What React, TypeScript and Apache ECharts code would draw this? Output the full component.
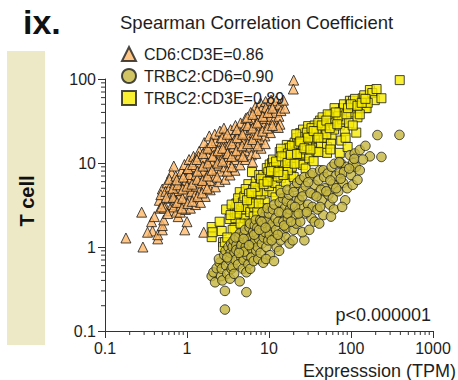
import React, { useEffect, useRef } from 'react';
import * as echarts from 'echarts';

const FONT = "'Liberation Sans', Arial, Helvetica, sans-serif";

const seriesNames = ['CD6:CD3E=0.86', 'TRBC2:CD6=0.90', 'TRBC2:CD3E=0.89'];
const xTickLabels = ['0.1', '1', '10', '100', '1000'];
const yTickLabels = ['0.1', '1', '10', '100'];

// CD6 vs CD3E (triangles)
const cd6Cd3e: number[][] = [
  [0.18, 1.28], [0.29, 1.0], [0.28, 2.6], [0.37, 2.0], [0.38, 1.55], [0.44, 1.25], [0.44, 1.4], [0.5, 1.6], [0.5, 1.8], [0.52, 2.1],
  [0.94, 1.6], [1.0, 2.0], [0.78, 2.3], [1.6, 1.5], [0.65, 7.6], [0.69, 9.2], [0.46, 3.6], [0.5, 4.9], [0.57, 5.8], [0.4, 2.3],
  [0.47, 2.9], [0.33, 1.5],
  [0.48, 4.2], [0.52, 3.3], [0.55, 4.6], [0.53, 2.9], [0.49, 3.0],
  [0.6, 3.8], [0.62, 5.2], [0.63, 2.7], [0.64, 4.4], [0.61, 6.4], [0.66, 3.2],
  [0.7, 5.8], [0.72, 3.6], [0.71, 4.6], [0.74, 2.6], [0.73, 7.0], [0.69, 3.0],
  [0.8, 4.0], [0.82, 6.6], [0.84, 3.1], [0.81, 5.2], [0.86, 8.0], [0.83, 2.6], [0.79, 4.7],
  [0.92, 5.6], [0.95, 3.5], [0.94, 7.4], [0.97, 4.4], [0.93, 9.6], [0.96, 2.8], [0.98, 6.2],
  [1.05, 5.0], [1.1, 3.9], [1.08, 8.4], [1.12, 6.6], [1.06, 11.0], [1.1, 2.9], [1.13, 4.6], [1.07, 7.3],
  [1.22, 6.0], [1.26, 4.2], [1.24, 9.0], [1.28, 7.2], [1.2, 12.0], [1.27, 3.2], [1.3, 5.3], [1.23, 10.4],
  [1.4, 7.0], [1.45, 4.8], [1.43, 10.0], [1.48, 5.8], [1.41, 13.8], [1.46, 3.4], [1.5, 8.4], [1.38, 12.0],
  [1.6, 8.0], [1.66, 5.4], [1.63, 11.5], [1.68, 14.5], [1.7, 6.6], [1.62, 17.5], [1.67, 4.0], [1.72, 9.6],
  [1.85, 9.2], [1.9, 6.2], [1.88, 13.0], [1.93, 16.0], [1.95, 7.6], [1.87, 21], [1.92, 4.8], [1.98, 11.0],
  [2.1, 10.5], [2.2, 7.0], [2.15, 14.5], [2.25, 18.5], [2.22, 5.2], [2.18, 22], [2.3, 8.6], [2.12, 12.3],
  [2.45, 11.5], [2.55, 8.0], [2.5, 16.0], [2.6, 20], [2.48, 6.0], [2.52, 24], [2.58, 13.5], [2.42, 9.4],
  [2.8, 12.5], [2.9, 9.0], [2.85, 18], [2.95, 23], [2.92, 6.4], [2.88, 15], [3.0, 11.0], [2.82, 26],
  [3.2, 14], [3.3, 10], [3.25, 20], [3.4, 25], [3.35, 7.2], [3.28, 16.5], [3.22, 12],
  [3.7, 15.5], [3.8, 11], [3.75, 22], [3.9, 28], [3.85, 8.2], [3.78, 18.5], [3.95, 13],
  [4.3, 17], [4.4, 12.5], [4.35, 24], [4.5, 30], [4.45, 9.5], [4.38, 20], [4.55, 14.5],
  [5.0, 19], [5.1, 14], [5.05, 27], [5.2, 34], [5.15, 11], [5.08, 23], [5.3, 16],
  [5.8, 21], [5.9, 15.5], [5.85, 30], [6.0, 40], [6.1, 12.5], [5.95, 25], [6.05, 18],
  [6.6, 23], [6.7, 17], [6.65, 33], [6.8, 46], [6.9, 13], [6.75, 28], [6.95, 20],
  [7.6, 26], [7.8, 19], [7.7, 37], [7.9, 52], [8.0, 15], [7.75, 31], [8.1, 44],
  [8.7, 28], [8.9, 21], [8.8, 40], [9.1, 54], [9.0, 17], [8.85, 34], [9.2, 46],
  [10, 30], [10.4, 23], [10.2, 44], [10.6, 56], [10.5, 36],
  [11.5, 33], [12, 27], [11.7, 48], [12.2, 55], [11.9, 40],
  [13.2, 36], [13.6, 29], [13.5, 50], [14, 42],
  [15.6, 45], [15, 56], [20, 97], [19.8, 76], [13, 26.5], [6.3, 10.3], [7.2, 42],
  [0.56, 3.9], [0.58, 2.5], [0.67, 5.0], [0.68, 3.9], [0.76, 3.4], [0.77, 5.5], [0.75, 6.3], [0.88, 3.8], [0.89, 4.9], [0.9, 6.8],
  [0.87, 2.9], [1.0, 5.3], [1.02, 3.3], [1.03, 8.6], [1.15, 5.6], [1.17, 9.6], [1.16, 3.5], [1.33, 6.4], [1.35, 4.0], [1.34, 8.0],
  [1.32, 11], [1.55, 6.2], [1.56, 9.2], [1.53, 4.4], [1.57, 13], [1.78, 7.0], [1.8, 10], [1.76, 5.0], [1.79, 15], [2.02, 8.2],
  [2.05, 12], [2.0, 17.5], [2.35, 10], [2.38, 14], [2.33, 6.8], [2.7, 10.5], [2.72, 15], [2.68, 20], [3.1, 8.0], [3.12, 13],
  [3.1, 22], [3.5, 12], [3.55, 17], [3.52, 9.0], [4.0, 14], [4.1, 20], [4.05, 25], [4.7, 16], [4.75, 22], [4.8, 12],
  [5.5, 17], [5.5, 28], [5.45, 35], [6.3, 19], [6.3, 26], [6.35, 38], [7.2, 22], [7.2, 30], [7.3, 16], [8.3, 24],
  [8.4, 36], [9.6, 26], [9.7, 40], [11, 28], [11, 45],
];

// TRBC2 vs CD6 (circles)
const trbc2Cd6: number[][] = [
  [2.0, 0.45], [2.2, 0.38], [2.1, 0.5], [2.3, 0.56],
  [2.5, 0.65], [2.6, 0.45], [2.45, 0.72], [2.7, 0.40], [2.65, 0.55],
  [2.9, 0.30], [2.9, 0.18], [2.85, 0.8], [3.0, 0.6], [3.1, 0.48], [2.95, 0.9],
  [3.3, 0.70], [3.2, 1.0], [3.4, 0.85], [3.5, 0.55], [3.35, 0.42], [3.45, 1.1],
  [3.6, 0.58], [3.6, 1.0], [3.8, 0.85], [3.7, 1.2], [3.9, 0.7], [4.0, 1.05], [3.75, 0.48], [4.0, 0.92],
  [4.4, 0.39], [4.3, 1.3], [4.5, 0.95], [4.6, 0.75], [4.2, 0.62], [4.7, 1.15], [4.4, 1.45], [4.8, 0.55], [4.6, 1.05],
  [5.3, 0.29], [4.9, 0.70], [5.0, 1.4], [5.2, 1.0], [5.4, 0.8], [5.1, 1.6], [5.5, 1.2], [5.6, 0.62], [5.3, 0.5], [5.0, 0.88],
  [5.9, 0.55], [5.8, 1.7], [6.0, 1.3], [6.2, 0.95], [6.1, 0.75], [6.4, 1.5], [6.3, 1.1], [6.5, 0.68], [5.9, 1.9],
  [6.7, 1.8], [6.8, 1.2], [7.0, 0.9], [7.1, 1.45], [6.9, 2.1], [7.3, 1.0], [7.4, 0.72], [7.2, 1.7], [7.5, 1.25],
  [7.8, 2.1], [8.0, 1.5], [8.2, 1.1], [8.5, 0.65], [8.4, 1.8], [7.9, 0.85], [8.6, 1.3], [8.8, 2.3], [8.3, 2.6],
  [9.0, 1.5], [9.3, 1.0], [9.5, 2.0], [9.8, 1.2], [10.0, 2.5], [10.3, 0.8], [10.5, 1.7], [9.6, 2.9], [10.2, 1.4], [9.2, 0.72],
  [11.5, 0.68], [11.0, 1.9], [11.2, 2.8], [11.8, 1.3], [12.0, 2.2], [12.4, 1.0], [11.6, 3.2], [12.2, 1.6],
  [13.0, 2.0], [13.5, 3.4], [13.8, 1.2], [14.2, 2.6], [14.5, 1.5], [13.3, 0.9], [14.8, 3.8], [14.0, 4.4], [15.0, 2.0],
  [15.6, 2.9], [16.0, 1.3], [16.5, 3.5], [17.0, 2.2], [17.5, 4.2], [16.2, 1.7], [17.8, 1.1], [18.0, 2.8], [16.8, 4.8],
  [19, 3.2], [20, 1.6], [20.5, 5.2], [21, 2.4], [22, 3.8], [19.5, 1.2], [21.5, 1.9], [22, 5.8], [20, 4.5],
  [24, 6.3], [24, 2.0], [25, 3.0], [26, 4.6], [27, 1.2], [27, 6.8], [28, 2.5], [25.5, 1.5], [23.5, 3.6], [28, 5.3],
  [30, 3.2], [31, 1.6], [32, 7.2], [33, 2.2], [34, 7.6], [35, 4.2], [36, 5.5], [30, 5.9], [34, 3.0], [36, 2.0],
  [40, 6.2], [42, 8.2], [44, 3.6], [46, 8.2], [46, 2.4], [48, 5.0], [39, 2.8], [43, 4.8], [47, 6.8], [41, 1.9],
  [52, 7.5], [55, 3.2], [58, 9.0], [60, 5.6], [62, 2.8], [65, 7.0], [53, 4.2], [57, 2.3], [63, 9.8], [60, 3.8],
  [73, 7.6], [70, 4.6], [75, 10.0], [80, 5.8], [85, 3.6], [88, 9.0], [78, 3.0], [82, 7.8], [90, 5.0], [72, 10.2],
  [97, 12.4], [106, 10], [111, 13], [100, 7.2], [105, 5.5], [115, 9.0], [120, 6.3], [128, 8.2], [128, 14.3], [110, 11.2],
  [150, 16], [170, 12], [210, 21.5], [235, 11.8], [390, 21.6], [140, 11],
  [3.1, 0.75], [3.9, 1.3], [4.3, 0.85], [4.9, 1.25], [5.7, 1.05], [6.6, 1.4], [7.6, 1.6], [8.1, 2.0], [9.1, 1.7], [10.8, 1.2],
  [12.8, 1.4], [13.2, 2.6], [15.3, 1.8], [16.8, 2.5], [18.6, 2.0], [20.8, 3.0], [23, 2.5], [25.5, 4.0], [29, 2.6], [32, 4.4],
  [38, 4.0], [42, 3.0], [50, 4.6], [56, 6.2], [66, 5.0], [75, 6.5], [95, 8.6],
];

// TRBC2 vs CD3E (squares)
const trbc2Cd3e: number[][] = [
  [2.0, 1.73], [2.0, 1.31], [2.05, 1.5], [2.65, 1.55], [2.75, 1.14], [2.75, 1.0], [2.9, 1.14], [3.3, 2.15], [3.8, 1.68], [3.8, 2.6],
  [4.9, 2.2], [4.0, 3.3], [4.4, 4.5], [3.6, 1.6], [5.1, 2.2], [3.1, 1.3], [2.5, 2.0],
  [3.0, 2.8], [3.5, 3.2], [4.2, 3.8], [4.6, 2.8], [4.8, 3.4], [3.9, 2.2],
  [5.0, 4.0], [5.3, 3.0], [5.6, 5.6], [5.9, 2.6], [5.5, 1.9], [6.0, 3.6], [5.2, 4.9],
  [6.2, 7.8], [6.4, 4.8], [6.6, 3.0], [6.9, 6.0], [6.5, 2.3], [7.0, 3.9],
  [7.6, 7.2], [7.8, 5.5], [8.2, 5.0], [8.5, 7.2], [8.9, 3.4], [7.9, 4.2], [8.4, 2.9], [8.8, 6.2], [9.4, 8.7], [9.0, 4.6],
  [10.2, 9.6], [10.9, 10], [10.5, 6.4], [11.2, 11], [11.0, 4.5], [11.6, 7.6], [12.5, 8.2], [10.0, 5.3], [11.8, 5.8], [12.0, 3.9],
  [13.5, 13.5], [14.8, 11.7], [13.2, 9.0], [14.0, 6.6], [15.2, 8.6], [16.5, 16.4], [15.8, 12.4], [13.8, 4.8], [16.0, 5.9], [14.5, 10.2],
  [17.5, 15], [18.0, 10.8], [19.5, 13.2], [18.5, 7.3], [20.5, 17.5], [22, 19.8], [21, 11.5], [20, 6.8], [19, 9.0], [22.5, 14.5],
  [24, 10], [24, 22.7], [25, 16], [26, 25], [26, 9.5], [27, 12.5], [27.5, 19], [24.5, 13], [28, 8.6], [25.5, 20.5],
  [31, 13.2], [31, 11.4], [30, 27.5], [32, 18], [33, 22], [34, 15], [36, 28], [35, 10.5], [36, 20], [38, 13.7],
  [42, 32], [46, 30.5], [44, 24], [43, 17], [47, 20], [51, 15.5], [51, 13.2], [48, 27], [40, 13.5], [45, 35],
  [58, 21.6], [55, 37], [60, 30], [63, 45], [62, 25], [57, 17], [64, 34], [56, 14.5],
  [73, 28], [73, 13.2], [80, 45], [72, 40], [78, 33], [76, 18.5], [84, 24], [82, 50], [70, 36], [86, 20],
  [91, 15.5], [97, 55], [106, 55], [100, 40], [95, 30], [110, 47], [116, 23], [120, 35], [105, 28], [112, 58],
  [139, 59], [130, 45], [150, 45], [155, 45], [145, 64], [170, 74], [182, 68], [205, 76], [195, 56], [160, 52],
  [235, 59], [393, 97], [128, 38],
  [4.1, 2.5], [4.5, 1.9], [5.7, 4.3], [6.3, 3.3], [7.3, 4.6], [7.2, 2.6], [6.8, 5.2], [9.8, 7.8], [8.0, 6.5], [12.8, 6.9],
  [11.4, 8.9], [17, 8.2], [15, 7.2], [14, 14.8], [17, 13], [19, 16], [21.5, 22], [23, 17], [26, 14.5], [29, 23],
  [29, 16], [33, 26], [38, 24], [40, 30], [52, 38], [50, 22],
  [3.4, 2.4], [4.3, 3.0], [5.4, 3.6], [6.1, 4.4], [7.5, 3.3], [8.6, 5.6], [9.6, 6.0], [10.6, 8.0], [12.2, 10.4], [13, 7.8],
  [14.2, 12], [16.8, 10], [18.5, 12.5], [20.5, 9.8], [22, 12.8], [24, 18], [27, 15], [30, 20], [32, 14.5], [35, 24],
  [40, 20], [44, 28], [50, 32], [55, 26], [65, 40], [68, 29], [88, 38], [92, 45], [100, 50], [120, 48], [135, 52], [150, 58],
];

// minor tick positions (2..9 within each decade)
const xMinorTicks: number[] = [];
[0.1, 1, 10, 100].forEach((d) => {
  for (let k = 2; k <= 9; k++) xMinorTicks.push(Number((k * d).toPrecision(2)));
});
const yMinorTicks: number[] = [];
[0.1, 1, 10].forEach((d) => {
  for (let k = 2; k <= 9; k++) yMinorTicks.push(Number((k * d).toPrecision(2)));
});

const AXIS_COLOR = '#333';
const TEXT_COLOR = '#1e1e1e';

function labelFor(labels: string[]) {
  return (v: number) => {
    const i = Math.round(Math.log10(v)) + 1;
    return labels[i] ?? '';
  };
}

export default function App() {
  const ref = useRef<HTMLDivElement>(null);
  useEffect(() => {
    const chart = echarts.init(ref.current!, null, { renderer: 'svg' });
    const border = { borderColor: '#1c1c1c', borderWidth: 1 };
    chart.setOption({
      animation: false,
      textStyle: { fontFamily: FONT },
      grid: { left: 105, top: 79, right: 25, bottom: 49, containLabel: false },
      xAxis: {
        type: 'log',
        logBase: 10,
        min: 0.1,
        max: 1000,
        splitLine: { show: false },
        axisLine: { show: true, lineStyle: { color: AXIS_COLOR, width: 1 } },
        axisTick: { show: true, length: 7, inside: false, lineStyle: { color: AXIS_COLOR } },
        axisLabel: { fontSize: 16, color: TEXT_COLOR, margin: 9, fontFamily: FONT, formatter: labelFor(xTickLabels) },
      },
      yAxis: {
        type: 'log',
        logBase: 10,
        min: 0.1,
        max: 100,
        splitLine: { show: false },
        axisLine: { show: true, lineStyle: { color: AXIS_COLOR, width: 1 } },
        axisTick: { show: true, length: 7, inside: false, lineStyle: { color: AXIS_COLOR } },
        axisLabel: { fontSize: 16, color: TEXT_COLOR, margin: 9, fontFamily: FONT, formatter: labelFor(yTickLabels) },
      },
      legend: {
        data: seriesNames,
        orient: 'vertical',
        left: 116,
        top: 41,
        itemWidth: 14,
        itemHeight: 14,
        itemGap: 6,
        selectedMode: false,
        textStyle: { fontSize: 16, color: TEXT_COLOR, fontFamily: FONT, padding: [0, 0, 0, 3] },
      },
      series: [
        {
          type: 'scatter',
          name: seriesNames[0],
          data: cd6Cd3e,
          symbol: 'triangle',
          symbolSize: 10,
          itemStyle: { color: '#ffb868', ...border },
        },
        {
          type: 'scatter',
          name: seriesNames[2],
          data: trbc2Cd3e,
          symbol: 'rect',
          symbolSize: 9,
          itemStyle: { color: '#f8ec00', ...border },
        },
        {
          type: 'scatter',
          name: seriesNames[1],
          data: trbc2Cd6,
          symbol: 'circle',
          symbolSize: 9.5,
          itemStyle: { color: '#c4b53e', ...border },
        },
        {
          type: 'custom',
          name: 'xMinor',
          silent: true,
          clip: false,
          data: xMinorTicks.map((v) => [v, 0.1]),
          renderItem: (_p: any, api: any) => {
            const pt = api.coord([api.value(0), api.value(1)]);
            return {
              type: 'line',
              shape: { x1: pt[0], y1: pt[1], x2: pt[0], y2: pt[1] + 4 },
              style: { stroke: AXIS_COLOR, lineWidth: 1 },
            };
          },
        },
        {
          type: 'custom',
          name: 'yMinor',
          silent: true,
          clip: false,
          data: yMinorTicks.map((v) => [0.1, v]),
          renderItem: (_p: any, api: any) => {
            const pt = api.coord([api.value(0), api.value(1)]);
            return {
              type: 'line',
              shape: { x1: pt[0] - 4, y1: pt[1], x2: pt[0], y2: pt[1] },
              style: { stroke: AXIS_COLOR, lineWidth: 1 },
            };
          },
        },
      ],
      graphic: [
        { type: 'rect', shape: { x: 7, y: 51, width: 38, height: 294 }, style: { fill: '#ede8c5' }, silent: true },
        {
          type: 'text', x: 23, y: 22,
          style: { text: 'ix.', fontSize: 34, fontWeight: 'bold', fontFamily: FONT, fill: '#111', align: 'left', verticalAlign: 'middle' },
        },
        {
          type: 'text', x: 27, y: 201, rotation: Math.PI / 2,
          style: { text: 'T cell', fontSize: 20, fontWeight: 'bold', fontFamily: FONT, fill: '#111', align: 'center', verticalAlign: 'middle' },
        },
        {
          type: 'text', x: 120, y: 22,
          style: { text: 'Spearman Correlation Coefficient', fontSize: 18.5, fontFamily: FONT, fill: TEXT_COLOR, align: 'left', verticalAlign: 'middle' },
        },
        {
          type: 'text', x: 431, y: 315,
          style: { text: 'p<0.000001', fontSize: 18, fontFamily: FONT, fill: TEXT_COLOR, align: 'right', verticalAlign: 'middle' },
        },
        {
          type: 'text', x: 456, y: 371,
          style: { text: 'Expresssion (TPM)', fontSize: 18, fontFamily: FONT, fill: TEXT_COLOR, align: 'right', verticalAlign: 'middle' },
        },
      ],
    });
    return () => chart.dispose();
  }, []);
  return <div ref={ref} style={{ position: 'absolute', left: 0, top: 0, width: 458, height: 380 }} />;
}
